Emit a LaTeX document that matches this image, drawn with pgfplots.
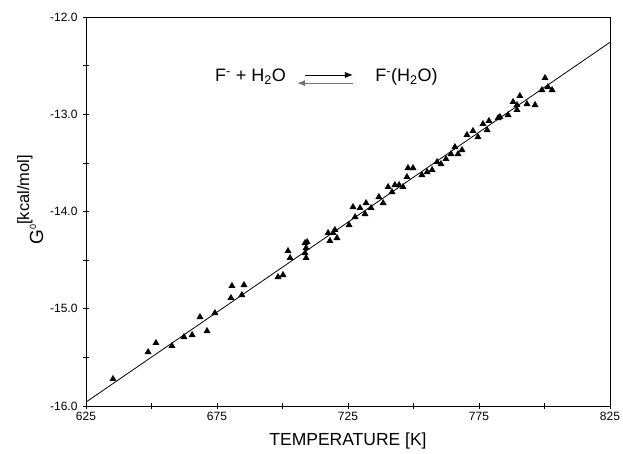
\documentclass[border=0pt]{standalone}
\usepackage{fontspec}
\setmainfont{Liberation Sans}
\usepackage{pgfplots}
\pgfplotsset{compat=1.18}
\usetikzlibrary{arrows.meta}

% measured points: temperature [K], G0 [kcal/mol]
\begin{document}
\begin{tikzpicture}
\begin{axis}[
  scale only axis,
  width=524pt, height=389pt,
  xmin=625, xmax=825,
  ymin=-16, ymax=-12,
  xtick={625,675,...,825},
  minor xtick={650,700,750,800},
  ytick={-16,-15,...,-12},
  minor ytick={-15.5,-14.5,-13.5,-12.5},
  xtick pos=bottom, ytick pos=left,
  tick align=center,
  major tick length=6pt, minor tick length=6pt,
  tick style={black, line width=0.6pt},
  axis line style={black, line width=0.8pt},
  xticklabel style={font=\fontsize{12}{14}\selectfont,
    /pgf/number format/.cd, fixed, 1000 sep={}, assume math mode=true},
  yticklabel style={font=\fontsize{12}{14}\selectfont, xshift=-2pt,
    /pgf/number format/.cd, fixed, fixed zerofill, precision=1, assume math mode=true},
  xlabel={TEMPERATURE [K]},
  xlabel style={font=\fontsize{17.5}{20}\selectfont,
    at={(axis description cs:0.5,0)}, anchor=base, yshift=-40pt},
  ylabel={{\fontsize{19}{21}\selectfont G}\raisebox{7pt}{\fontsize{9}{11}\selectfont 0}\raisebox{14pt}{\fontsize{16.5}{18}\selectfont [kcal/mol]}},
  ylabel style={at={(axis description cs:-0.081,0.53)}, anchor=south, inner sep=0pt},
  clip=false,
]
\addplot[only marks, mark=triangle*, mark size=3.6pt, black] table {
T G
635.3 -15.722
648.7 -15.445
651.7 -15.352
657.8 -15.383
662.4 -15.291
665.5 -15.270
668.5 -15.085
671.2 -15.229
674.2 -15.044
680.3 -14.889
680.7 -14.766
684.5 -14.859
685.3 -14.756
698.3 -14.674
700.2 -14.653
702.1 -14.406
702.9 -14.478
708.6 -14.324
709.4 -14.314
708.6 -14.427
709.0 -14.478
709.0 -14.375
717.4 -14.221
718.1 -14.303
719.3 -14.221
720.8 -14.273
720.0 -14.190
725.4 -14.139
726.9 -13.954
729.6 -13.964
727.7 -14.057
731.5 -14.026
731.9 -13.913
733.8 -13.964
736.8 -13.851
738.4 -13.913
740.3 -13.748
741.8 -13.800
742.9 -13.728
744.5 -13.728
746.0 -13.748
747.5 -13.645
747.9 -13.553
749.8 -13.553
753.2 -13.625
755.2 -13.594
757.1 -13.573
759.0 -13.491
760.5 -13.512
762.4 -13.460
764.3 -13.409
765.8 -13.337
767.0 -13.409
768.5 -13.368
770.4 -13.213
772.7 -13.172
774.6 -13.234
776.5 -13.100
778.1 -13.162
778.8 -13.069
782.3 -13.039
783.0 -13.028
786.1 -13.008
788.0 -12.874
789.5 -12.956
790.6 -12.812
789.5 -12.905
793.3 -12.895
796.4 -12.905
799.0 -12.751
800.2 -12.627
801.3 -12.720
802.9 -12.751
};
\addplot[black, line width=0.8pt] coordinates {(625,-15.96) (825,-12.26)};

% reaction scheme
\node[anchor=base west, inner sep=0pt, font=\fontsize{18}{21}\selectfont]
  at (rel axis cs:0.246,0.833) {F\textsuperscript{-} + H\textsubscript{2}O};
\node[anchor=base west, inner sep=0pt, font=\fontsize{18}{21}\selectfont]
  at (rel axis cs:0.552,0.833) {F\textsuperscript{-}(H\textsubscript{2}O)};
\draw[line width=0.9pt, -{Latex[length=8pt,width=6pt]}]
  (rel axis cs:0.418,0.851) -- (rel axis cs:0.5095,0.851);
\draw[black!55, line width=1.1pt, -{Latex[length=8pt,width=6pt]}]
  (rel axis cs:0.5095,0.830) -- (rel axis cs:0.4027,0.830);
\end{axis}
\pgfresetboundingbox
\path ([shift={(-86pt,-48pt)}]current axis.south west) rectangle ([shift={(13pt,17pt)}]current axis.north east);
\end{tikzpicture}
\end{document}
